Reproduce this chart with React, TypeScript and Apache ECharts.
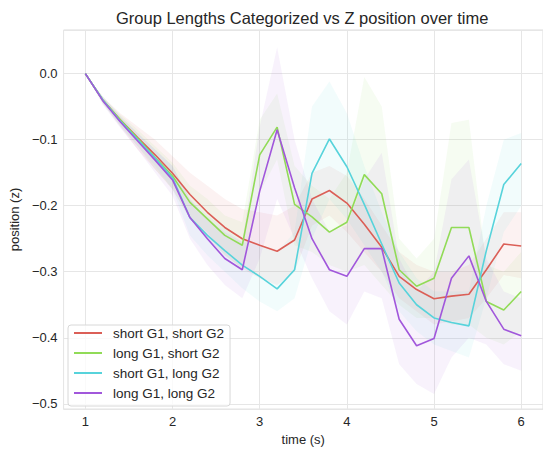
import React, { useEffect, useRef } from 'react';
import * as echarts from 'echarts';

const times = [1.0, 1.2, 1.4, 1.6, 1.8, 2.0, 2.2, 2.4, 2.6, 2.8, 3.0, 3.2, 3.4, 3.6, 3.8, 4.0, 4.2, 4.4, 4.6, 4.8, 5.0, 5.2, 5.4, 5.6, 5.8, 6.0];

const seriesNames = ['short G1, short G2', 'long G1, short G2', 'short G1, long G2', 'long G1, long G2'];

const shortShort = [0, -0.04, -0.07, -0.097, -0.123, -0.151, -0.183, -0.21, -0.233, -0.25, -0.26, -0.269, -0.252, -0.19, -0.177, -0.196, -0.228, -0.263, -0.307, -0.327, -0.341, -0.337, -0.334, -0.297, -0.258, -0.261];
const longShort = [0, -0.04, -0.07, -0.098, -0.127, -0.155, -0.195, -0.22, -0.245, -0.26, -0.123, -0.081, -0.198, -0.217, -0.24, -0.225, -0.153, -0.182, -0.297, -0.322, -0.31, -0.233, -0.233, -0.345, -0.358, -0.33];
const shortLong = [0, -0.04, -0.072, -0.1, -0.128, -0.158, -0.218, -0.245, -0.268, -0.29, -0.307, -0.326, -0.297, -0.151, -0.099, -0.141, -0.198, -0.258, -0.317, -0.35, -0.37, -0.377, -0.382, -0.268, -0.168, -0.136];
const longLong = [0, -0.041, -0.073, -0.102, -0.131, -0.161, -0.218, -0.25, -0.28, -0.297, -0.178, -0.085, -0.173, -0.25, -0.297, -0.307, -0.265, -0.265, -0.372, -0.412, -0.401, -0.31, -0.276, -0.345, -0.387, -0.397];

const shortShortUpper = [0, -0.035, -0.06, -0.08, -0.1, -0.125, -0.15, -0.17, -0.19, -0.205, -0.21, -0.215, -0.2, -0.15, -0.14, -0.155, -0.19, -0.23, -0.27, -0.29, -0.3, -0.3, -0.29, -0.25, -0.21, -0.21];
const shortShortLower = [0, -0.045, -0.08, -0.115, -0.145, -0.175, -0.22, -0.25, -0.275, -0.295, -0.31, -0.32, -0.3, -0.23, -0.215, -0.24, -0.27, -0.3, -0.34, -0.36, -0.38, -0.375, -0.37, -0.34, -0.305, -0.31];
const longShortUpper = [0, -0.035, -0.062, -0.085, -0.11, -0.135, -0.17, -0.19, -0.215, -0.225, -0.07, -0.03, -0.14, -0.17, -0.19, -0.15, -0.005, -0.05, -0.25, -0.28, -0.25, -0.075, -0.07, -0.29, -0.3, -0.27];
const longShortLower = [0, -0.045, -0.078, -0.11, -0.145, -0.175, -0.22, -0.24, -0.275, -0.295, -0.18, -0.13, -0.26, -0.27, -0.29, -0.3, -0.29, -0.32, -0.35, -0.37, -0.37, -0.38, -0.38, -0.4, -0.41, -0.39];
const shortLongUpper = [0, -0.035, -0.064, -0.09, -0.115, -0.14, -0.19, -0.215, -0.235, -0.255, -0.26, -0.27, -0.24, -0.05, -0.012, -0.06, -0.14, -0.21, -0.27, -0.31, -0.33, -0.33, -0.33, -0.2, -0.1, -0.09];
const shortLongLower = [0, -0.045, -0.08, -0.11, -0.14, -0.175, -0.245, -0.275, -0.3, -0.325, -0.345, -0.36, -0.34, -0.25, -0.19, -0.22, -0.26, -0.3, -0.36, -0.39, -0.41, -0.42, -0.43, -0.34, -0.24, -0.2];
const longLongUpper = [0, -0.035, -0.065, -0.09, -0.115, -0.14, -0.19, -0.22, -0.24, -0.255, -0.08, 0.04, -0.1, -0.19, -0.24, -0.23, -0.16, -0.12, -0.28, -0.33, -0.3, -0.16, -0.13, -0.28, -0.33, -0.34];
const longLongLower = [0, -0.047, -0.082, -0.115, -0.15, -0.185, -0.25, -0.29, -0.32, -0.34, -0.28, -0.19, -0.25, -0.31, -0.36, -0.38, -0.33, -0.34, -0.44, -0.47, -0.485, -0.43, -0.4, -0.41, -0.44, -0.45];

const colors = ['#db5f57', '#91db57', '#57d3db', '#a157db'];
const FONT = '"Liberation Sans", Arial, Helvetica, sans-serif';

function rgba(hex: string, a: number) {
  const n = parseInt(hex.slice(1), 16);
  return `rgba(${(n >> 16) & 255},${(n >> 8) & 255},${n & 255},${a})`;
}

function bandSeries(lo: number[], hi: number[], color: string) {
  const data = times.map((t, i) => [t, lo[i], hi[i]]);
  return {
    type: 'custom',
    silent: true,
    z: 1,
    data,
    encode: { x: 0, y: [1, 2] },
    renderItem: (params: any, api: any) => {
      if (params.dataIndex !== 0) return { type: 'group', children: [] };
      const up = data.map((d) => api.coord([d[0], d[2]]));
      const dn = data.map((d) => api.coord([d[0], d[1]])).reverse();
      return {
        type: 'polygon',
        shape: { points: up.concat(dn) },
        style: { fill: rgba(color, 0.08), stroke: 'none' },
      };
    },
  };
}

function lineSeries(name: string, vals: number[], color: string) {
  return {
    type: 'line',
    name,
    z: 3,
    data: times.map((t, i) => [t, vals[i]]),
    showSymbol: false,
    symbol: 'none',
    color,
    lineStyle: { color, width: 1.6 },
  };
}

const fmt = (v: number) => {
  const s = Math.abs(v) < 1e-9 ? '0.0' : v.toFixed(1);
  return s.replace('-', '\u2212');
};

export default function App() {
  const ref = useRef<HTMLDivElement>(null);
  useEffect(() => {
    if (!ref.current) return;
    const chart = echarts.init(ref.current, undefined, { renderer: 'svg' });
    const vals = [shortShort, longShort, shortLong, longLong];
    const los = [shortShortLower, longShortLower, shortLongLower, longLongLower];
    const his = [shortShortUpper, longShortUpper, shortLongUpper, longLongUpper];
    const series: any[] = [];
    for (let i = 0; i < 4; i++) series.push(bandSeries(los[i], his[i], colors[i]));
    for (let i = 0; i < 4; i++) series.push(lineSeries(seriesNames[i], vals[i], colors[i]));
    chart.setOption({
      animation: false,
      backgroundColor: '#ffffff',
      textStyle: { fontFamily: FONT },
      title: {
        text: 'Group Lengths Categorized vs Z position over time',
        left: 116,
        top: 9,
        padding: 0,
        textStyle: { fontFamily: FONT, fontSize: 16.5, fontWeight: 'normal', color: '#262626' },
      },
      grid: {
        left: 62,
        top: 30,
        width: 483,
        height: 382,
        show: true,
        borderColor: '#dcdcdc',
        borderWidth: 1,
        backgroundColor: 'transparent',
      },
      legend: {
        data: seriesNames,
        orient: 'vertical',
        left: 68,
        top: 325,
        icon: 'rect',
        itemWidth: 28,
        itemHeight: 2,
        itemGap: 6,
        padding: [1, 6, 6, 6],
        backgroundColor: 'rgba(255,255,255,0.8)',
        borderColor: '#d8d8d8',
        borderWidth: 1,
        borderRadius: 3,
        z: 10,
        textStyle: { fontFamily: FONT, fontSize: 13.5, color: '#262626', lineHeight: 14, padding: [0, 0, 0, 6] },
      },
      xAxis: {
        type: 'value',
        min: 0.75,
        max: 6.25,
        minInterval: 1,
        maxInterval: 1,
        name: 'time (s)',
        nameLocation: 'middle',
        nameGap: 21,
        nameTextStyle: { fontFamily: FONT, fontSize: 13, color: '#262626' },
        axisLine: { show: false },
        axisTick: { show: false },
        axisLabel: {
          showMinLabel: false,
          showMaxLabel: false,
          margin: 6,
          fontFamily: FONT,
          fontSize: 13,
          color: '#262626',
          formatter: (v: number) => String(Math.round(v)),
        },
        splitLine: { show: true, lineStyle: { color: '#e6e6e6', width: 1 } },
      },
      yAxis: {
        type: 'value',
        min: -0.508,
        max: 0.066,
        minInterval: 0.1,
        maxInterval: 0.1,
        name: 'position (z)',
        nameLocation: 'middle',
        nameGap: 42,
        nameRotate: 90,
        nameTextStyle: { fontFamily: FONT, fontSize: 13, color: '#262626' },
        axisLine: { show: false },
        axisTick: { show: false },
        axisLabel: {
          showMinLabel: false,
          showMaxLabel: false,
          margin: 6,
          fontFamily: FONT,
          fontSize: 13,
          color: '#262626',
          formatter: (v: number) => fmt(v),
        },
        splitLine: { show: true, lineStyle: { color: '#e6e6e6', width: 1 } },
      },
      series,
    });
    return () => chart.dispose();
  }, []);
  return <div ref={ref} style={{ position: 'absolute', left: 0, top: 0, width: 543, height: 451 }} />;
}
